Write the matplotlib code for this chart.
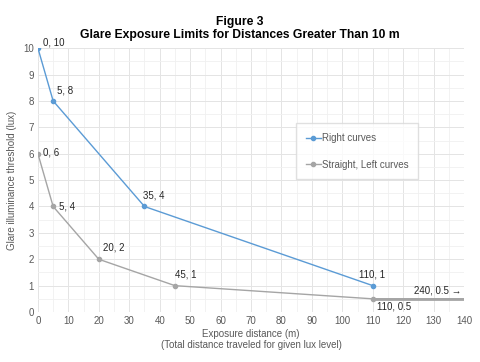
import matplotlib.pyplot as plt
from matplotlib.ticker import MultipleLocator

plt.rcParams['font.family'] = ['Liberation Sans', 'DejaVu Sans']

right_x = [0, 5, 35, 110]
right_y = [10, 8, 4, 1]
straight_x = [0, 5, 20, 45, 110, 240]
straight_y = [6, 4, 2, 1, 0.5, 0.5]

blue = '#5b9bd5'
grey = '#a5a5a5'

fig = plt.figure(figsize=(4.8, 3.62), dpi=100)
ax = fig.add_axes([0.079, 0.138, 0.888, 0.729])

ax.plot(right_x, right_y, color=blue, lw=1, marker='o', ms=3, label='Right curves', zorder=3)
ax.plot(straight_x, straight_y, color=grey, lw=1, marker='o', ms=3,
        label='Straight, Left curves', zorder=3)
ax.plot(straight_x[-2:], straight_y[-2:], color=grey, lw=2, zorder=2)

ax.set_xlim(0, 140)
ax.set_ylim(0, 10)
ax.xaxis.set_major_locator(MultipleLocator(10))
ax.xaxis.set_minor_locator(MultipleLocator(5))
ax.yaxis.set_major_locator(MultipleLocator(1))
ax.yaxis.set_minor_locator(MultipleLocator(0.5))
ax.grid(which='major', color='#e4e4e4', lw=0.7)
ax.grid(which='minor', color='#f0f0f0', lw=0.6)
ax.set_axisbelow(True)
for s in ax.spines.values():
    s.set_visible(False)
ax.tick_params(which='both', length=0, labelsize=7, labelcolor='#595959', pad=3)

txt = dict(fontsize=7, color='#262626')
ax.annotate('0, 10', (0, 10), xytext=(4, 2), textcoords='offset points', **txt)
ax.annotate('5, 8', (5, 8), xytext=(3, 5), textcoords='offset points', **txt)
ax.annotate('35, 4', (35, 4), xytext=(-1, 6), textcoords='offset points', **txt)
ax.annotate('110, 1', (110, 1), xytext=(-10, 6), textcoords='offset points', **txt)
ax.annotate('0, 6', (0, 6), xytext=(4, -1), textcoords='offset points', **txt)
ax.annotate('5, 4', (5, 4), xytext=(4, -2), textcoords='offset points', **txt)
ax.annotate('20, 2', (20, 2), xytext=(3, 6), textcoords='offset points', **txt)
ax.annotate('45, 1', (45, 1), xytext=(0, 6), textcoords='offset points', **txt)
ax.annotate('110, 0.5', (110, 0.5), xytext=(3, -8), textcoords='offset points', **txt)
ax.annotate('240, 0.5 \u2192', (140, 0.5), xytext=(-2, 4), textcoords='offset points',
            ha='right', **txt)

ax.set_xlabel('Exposure distance (m)\n(Total distance traveled for given lux level)',
              fontsize=7, color='#595959', labelpad=2, linespacing=1.1)
ax.set_ylabel('Glare illuminance threshold (lux)', fontsize=7, color='#595959', labelpad=4)

fig.suptitle('Figure 3\nGlare Exposure Limits for Distances Greater Than 10 m',
             fontsize=8.7, fontweight='bold', y=0.955, linespacing=1.1)

leg = ax.legend(loc='upper left', bbox_to_anchor=(0.605, 0.715), fontsize=7,
                frameon=True, fancybox=False, edgecolor='#d9d9d9', labelspacing=1.7,
                handlelength=1.6, handletextpad=0.1, borderpad=1.0, borderaxespad=0)
for t in leg.get_texts():
    t.set_color('#595959')

fig.savefig('out.png', dpi=100)
